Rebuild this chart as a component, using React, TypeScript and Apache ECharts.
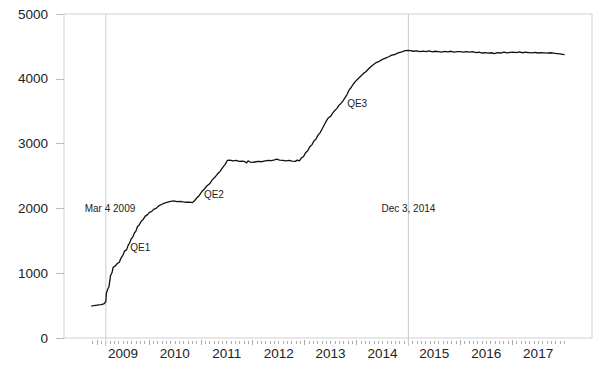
import React, { useEffect, useRef } from "react";
import * as echarts from "echarts";

// Fed balance sheet (billions), decimal-year dates
const dates = [
  2008.89, 2008.93, 2008.98, 2009.03, 2009.08, 2009.13, 2009.17, 2009.18, 2009.21, 2009.23,
  2009.26, 2009.29, 2009.31, 2009.35, 2009.39, 2009.43, 2009.46, 2009.5, 2009.53, 2009.57,
  2009.6, 2009.63, 2009.66, 2009.69, 2009.72, 2009.75, 2009.78, 2009.81, 2009.85, 2009.89,
  2009.93, 2009.97, 2010.01, 2010.05, 2010.09, 2010.14, 2010.19, 2010.24, 2010.3, 2010.36,
  2010.42, 2010.48, 2010.54, 2010.6, 2010.66, 2010.72, 2010.78, 2010.84, 2010.87, 2010.92,
  2010.97, 2011.02, 2011.07, 2011.12, 2011.17, 2011.22, 2011.27, 2011.32, 2011.37, 2011.42,
  2011.47, 2011.51, 2011.56, 2011.62, 2011.68, 2011.74, 2011.8, 2011.85, 2011.88, 2011.91,
  2011.95, 2012.0, 2012.06, 2012.12, 2012.18, 2012.24, 2012.3, 2012.36, 2012.42, 2012.46,
  2012.52, 2012.58, 2012.64, 2012.7, 2012.76, 2012.82, 2012.86, 2012.9, 2012.94, 2012.98,
  2013.02, 2013.06, 2013.1, 2013.14, 2013.18, 2013.22, 2013.26, 2013.3, 2013.34, 2013.38,
  2013.42, 2013.46, 2013.5, 2013.54, 2013.58, 2013.62, 2013.66, 2013.7, 2013.74, 2013.78,
  2013.82, 2013.86, 2013.9, 2013.94, 2013.98, 2014.03, 2014.08, 2014.13, 2014.18, 2014.23,
  2014.28, 2014.33, 2014.38, 2014.44, 2014.5, 2014.56, 2014.62, 2014.68, 2014.74, 2014.8,
  2014.86, 2014.92, 2014.98, 2015.04, 2015.1, 2015.16, 2015.22, 2015.28, 2015.34, 2015.4,
  2015.46, 2015.52, 2015.58, 2015.64, 2015.7, 2015.76, 2015.82, 2015.88, 2015.94, 2016.0,
  2016.06, 2016.12, 2016.18, 2016.24, 2016.3, 2016.36, 2016.42, 2016.48, 2016.54, 2016.6,
  2016.66, 2016.72, 2016.78, 2016.84, 2016.9, 2016.96, 2017.02, 2017.08, 2017.14, 2017.2,
  2017.26, 2017.32, 2017.38, 2017.44, 2017.5, 2017.56, 2017.62, 2017.68, 2017.74, 2017.8,
  2017.86, 2017.92, 2017.97, 2018.01,
];
const values = [
  494, 498, 505, 510, 515, 525, 560, 690, 760, 790,
  960, 1010, 1090, 1110, 1150, 1170, 1230, 1280, 1340, 1360,
  1430, 1470, 1530, 1560, 1620, 1650, 1720, 1740, 1800, 1830,
  1880, 1900, 1940, 1950, 1985, 2000, 2040, 2060, 2080, 2095,
  2110, 2115, 2105, 2110, 2100, 2095, 2098, 2090, 2110, 2160,
  2200, 2260, 2300, 2350, 2380, 2440, 2480, 2530, 2570, 2630,
  2680, 2740, 2745, 2735, 2740, 2725, 2730, 2720, 2700, 2735,
  2715, 2710, 2720, 2725, 2720, 2735, 2740, 2738, 2750, 2760,
  2745, 2742, 2735, 2740, 2730, 2725, 2745, 2735, 2780, 2800,
  2860, 2890, 2950, 2980, 3040, 3070, 3130, 3170, 3230, 3290,
  3350, 3400, 3420, 3470, 3510, 3540, 3590, 3620, 3660, 3710,
  3760, 3830, 3870, 3920, 3960, 4000, 4040, 4080, 4110, 4150,
  4190, 4220, 4250, 4270, 4300, 4320, 4340, 4365, 4375, 4400,
  4410, 4430, 4440, 4435, 4425, 4430, 4418, 4428, 4420, 4432,
  4415, 4425, 4420, 4410, 4422, 4415, 4425, 4412, 4420, 4418,
  4410, 4420, 4412, 4418, 4405, 4410, 4398, 4405, 4395, 4402,
  4390, 4405, 4398, 4410, 4400, 4408, 4412, 4405, 4415, 4402,
  4410, 4405, 4400, 4408, 4398, 4405, 4400, 4395, 4402, 4395,
  4390, 4385, 4378, 4372,
];

const yTicks = [0, 1000, 2000, 3000, 4000, 5000];
const yearLabels = [2009, 2010, 2011, 2012, 2013, 2014, 2015, 2016, 2017];

const events = [
  { x: 2009.17, textX: 2009.25, label: "Mar 4 2009" },
  { x: 2015.0, textX: 2015.0, label: "Dec 3, 2014" },
];
const eventLabelValue = 2000;

const qeLabels = [
  { x: 2009.64, y: 1404, text: "QE1" },
  { x: 2011.06, y: 2222, text: "QE2" },
  { x: 2013.82, y: 3626, text: "QE3" },
];

const X_MIN = 2008.364;
const X_MAX = 2018.538;

const FONT = "'Liberation Sans', Arial, Helvetica, sans-serif";

export default function App() {
  const ref = useRef<HTMLDivElement>(null);

  useEffect(() => {
    if (!ref.current) return;
    const chart = echarts.init(ref.current, null, { renderer: "svg" });

    const monthTicks: number[] = [];
    for (let k = 0; k <= 109; k++) monthTicks.push(2008 + (11 + k) / 12);
    const yearStarts = yearLabels.map((y) => y);
    const yearMids = yearLabels.map((y) => y + 0.5);

    const xBase = {
      type: "value" as const,
      min: X_MIN,
      max: X_MAX,
      splitLine: { show: false },
      axisLine: { show: false },
    };

    chart.setOption({
      animation: false,
      textStyle: { fontFamily: FONT },
      grid: {
        left: 64,
        right: 7,
        top: 14,
        bottom: 29,
        show: true,
        borderColor: "#cfcfcf",
        borderWidth: 1,
        containLabel: false,
      },
      xAxis: [
        {
          ...xBase,
          axisTick: { show: false },
          axisLabel: { show: false },
        },
        {
          ...xBase,
          position: "bottom",
          offset: 3,
          axisTick: {
            show: true,
            customValues: monthTicks,
            length: 3,
            lineStyle: { color: "#aaaaaa", width: 1 },
          },
          axisLabel: {
            show: true,
            customValues: yearMids,
            formatter: (v: number) => String(Math.floor(v)),
            fontSize: 13.5,
            color: "#222",
            fontFamily: FONT,
            margin: 5,
          },
        },
        {
          ...xBase,
          position: "bottom",
          offset: 2,
          axisTick: {
            show: true,
            customValues: yearStarts,
            length: 5,
            lineStyle: { color: "#aaaaaa", width: 1 },
          },
          axisLabel: { show: false },
        },
      ],
      yAxis: {
        type: "value",
        min: 0,
        max: 5000,
        interval: 1000,
        axisLine: { show: false },
        splitLine: { show: false },
        axisTick: { show: true, length: 8, lineStyle: { color: "#bbbbbb" } },
        axisLabel: {
          fontSize: 13.5,
          color: "#222",
          fontFamily: FONT,
          margin: 16,
          customValues: yTicks,
          formatter: (v: number) => String(v),
        },
      },
      series: [
        {
          type: "custom",
          xAxisIndex: 0,
          yAxisIndex: 0,
          clip: false,
          z: 1,
          silent: true,
          data: events.map((e) => [e.x, e.textX]),
          renderItem: (params: any, api: any) => {
            const x = api.value(0);
            const top = api.coord([x, 5000]);
            const bot = api.coord([x, 0]);
            const t = api.coord([api.value(1), eventLabelValue]);
            return {
              type: "group",
              children: [
                {
                  type: "line",
                  shape: { x1: top[0], y1: top[1], x2: bot[0], y2: bot[1] + 8 },
                  style: { stroke: "#cccccc", lineWidth: 1 },
                },
                {
                  type: "text",
                  style: {
                    text: events[params.dataIndex].label,
                    x: t[0],
                    y: t[1],
                    align: "center",
                    verticalAlign: "middle",
                    fontSize: 10,
                    fontFamily: FONT,
                    fill: "#222",
                  },
                },
              ],
            };
          },
        },
        {
          type: "line",
          xAxisIndex: 0,
          yAxisIndex: 0,
          z: 3,
          showSymbol: false,
          symbol: "none",
          lineStyle: { color: "#111", width: 1.3 },
          data: dates.map((d, i) => [d, values[i]]),
        },
        {
          type: "custom",
          xAxisIndex: 0,
          yAxisIndex: 0,
          clip: false,
          z: 4,
          silent: true,
          data: qeLabels.map((q) => [q.x, q.y]),
          renderItem: (params: any, api: any) => {
            const p = api.coord([api.value(0), api.value(1)]);
            return {
              type: "text",
              style: {
                text: qeLabels[params.dataIndex].text,
                x: p[0],
                y: p[1],
                align: "left",
                verticalAlign: "middle",
                fontSize: 10,
                fontFamily: FONT,
                fill: "#222",
              },
            };
          },
        },
      ],
    });

    return () => chart.dispose();
  }, []);

  return (
    <div
      ref={ref}
      style={{ position: "fixed", left: 0, top: 0, width: 599, height: 367, background: "#fff" }}
    />
  );
}
